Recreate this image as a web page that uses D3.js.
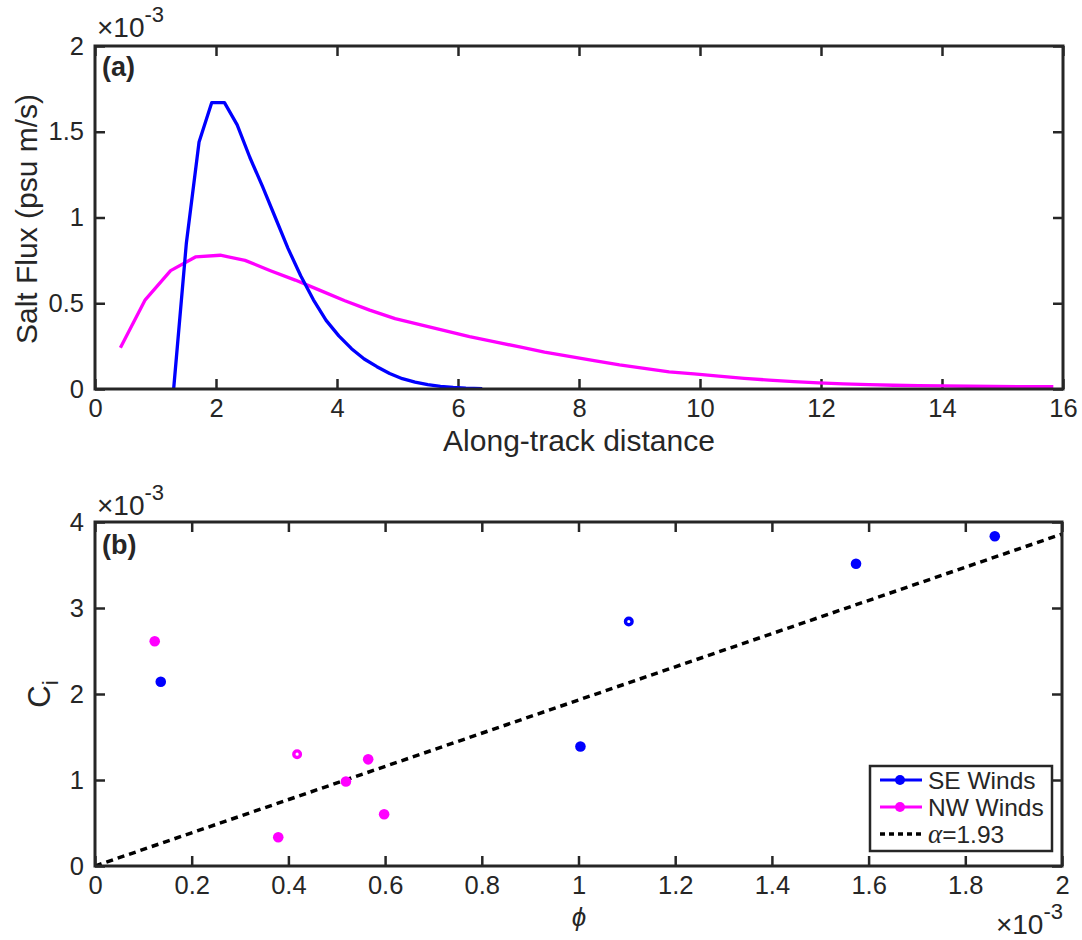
<!DOCTYPE html>
<html><head><meta charset="utf-8">
<script src="https://cdn.jsdelivr.net/npm/d3@7"></script>
<style>
body{margin:0;background:#fff}
text{font-family:"Liberation Sans",Arial,Helvetica,sans-serif;fill:#262626}
</style>
</head><body><svg id="c" width="1082" height="940"></svg>
<script>
// ---- Panel (a): along-track salt flux (values in 1e-3 psu m/s) ----
const seDist = [1.30,1.51,1.72,1.93,2.14,2.35,2.56,2.77,2.98,3.19,3.40,3.61,3.82,4.03,4.24,4.45,4.66,4.87,5.08,5.29,5.50,5.71,5.92,6.13,6.40];
const seFlux = [0,0.85,1.44,1.67,1.67,1.54,1.35,1.18,1.00,0.82,0.66,0.52,0.40,0.31,0.235,0.175,0.13,0.09,0.06,0.04,0.025,0.015,0.009,0.005,0.002];
const nwDist = [0.42,0.83,1.25,1.66,2.07,2.48,2.90,3.31,3.72,4.13,4.54,4.96,5.37,5.78,6.19,6.61,7.02,7.43,7.84,8.25,8.67,9.08,9.49,9.90,10.31,10.73,11.14,11.55,11.96,12.37,12.79,13.20,13.61,14.02,14.43,14.85,15.26,15.84];
const nwFlux = [0.24,0.52,0.69,0.77,0.78,0.75,0.69,0.635,0.575,0.515,0.46,0.41,0.375,0.34,0.305,0.275,0.245,0.215,0.19,0.165,0.14,0.12,0.10,0.088,0.075,0.062,0.052,0.043,0.036,0.030,0.026,0.022,0.020,0.018,0.016,0.015,0.014,0.013];
const aXTicks = [0,2,4,6,8,10,12,14,16];
const aYTicks = [0,0.5,1,1.5,2];

// ---- Panel (b): C_i vs phi (both in 1e-3) ----
const sePhi  = [0.136,1.004,1.574,1.861,1.104];
const seCi   = [2.142,1.390,3.514,3.835,2.843];
const seOpen = [false,false,false,false,true];
const nwPhi  = [0.1235,0.379,0.519,0.565,0.598,0.418];
const nwCi   = [2.614,0.335,0.983,1.240,0.602,1.300];
const nwOpen = [false,false,false,false,false,true];
const alpha = 1.93;
const fitPhi = [0,2];
const bXTicks = [0,0.2,0.4,0.6,0.8,1,1.2,1.4,1.6,1.8,2];
const bYTicks = [0,1,2,3,4];
const legendLabels = ["SE Winds","NW Winds","=1.93"];

const BLUE="#0000ff", MAG="#ff00ff", AX="#262626";
const svg = d3.select("#c");
const TICKF = 25.5, LABF = 30;

function panel(o){
  const g = svg.append("g");
  const x = d3.scaleLinear().domain(o.xd).range([o.L,o.R]);
  const y = d3.scaleLinear().domain(o.yd).range([o.B,o.T]);
  const fmt = d => String(+d.toFixed(2));
  const ax = g.append("g").attr("transform",`translate(0,${o.B})`)
    .call(d3.axisBottom(x).tickValues(o.xt).tickSize(-10).tickPadding(10).tickFormat(fmt));
  const ay = g.append("g").attr("transform",`translate(${o.L},0)`)
    .call(d3.axisLeft(y).tickValues(o.yt).tickSize(-10).tickPadding(11).tickFormat(fmt));
  const at = g.append("g").attr("transform",`translate(0,${o.T})`)
    .call(d3.axisTop(x).tickValues(o.xt).tickSize(-10).tickFormat(""));
  const ar = g.append("g").attr("transform",`translate(${o.R},0)`)
    .call(d3.axisRight(y).tickValues(o.yt).tickSize(-10).tickFormat(""));
  [ax,ay,at,ar].forEach(a=>{
    a.select(".domain").remove();
    a.selectAll(".tick line").attr("stroke",AX).attr("stroke-width",2.5);
    a.selectAll(".tick text").attr("font-size",TICKF).attr("fill",AX)
      .attr("font-family",'"Liberation Sans",Arial,sans-serif');
  });
  const clipId = "clip"+o.id;
  svg.append("clipPath").attr("id",clipId).append("rect")
    .attr("x",o.L).attr("y",o.T).attr("width",o.R-o.L).attr("height",o.B-o.T);
  const plot = g.append("g").attr("clip-path",`url(#${clipId})`);
  return {g,x,y,plot,box:()=>g.append("rect").attr("x",o.L).attr("y",o.T)
    .attr("width",o.R-o.L).attr("height",o.B-o.T).attr("fill","none")
    .attr("stroke",AX).attr("stroke-width",3)};
}

function times10(x,yb,anchor){
  const t = svg.append("text").attr("x",x).attr("y",yb).attr("font-size",28).attr("text-anchor",anchor||"start");
  t.append("tspan").text("\u00d710");
  t.append("tspan").attr("dy",-15).attr("font-size",22).text("-3");
}

// ---------- Panel a ----------
const A = panel({id:"a",L:95,R:1063,T:46,B:389,xd:[0,16],yd:[0,2],xt:aXTicks,yt:aYTicks});
const lineA = d3.line().x(d=>A.x(d[0])).y(d=>A.y(d[1]));
A.plot.append("path").datum(nwDist.map((d,i)=>[d,nwFlux[i]]))
  .attr("d",lineA).attr("fill","none").attr("stroke",MAG).attr("stroke-width",3.3).attr("stroke-linejoin","round");
A.plot.append("path").datum(seDist.map((d,i)=>[d,seFlux[i]]))
  .attr("d",lineA).attr("fill","none").attr("stroke",BLUE).attr("stroke-width",3.3).attr("stroke-linejoin","round");
A.box();
A.g.append("text").attr("x",102).attr("y",76).attr("font-size",27).attr("font-weight","bold").attr("fill","#000").text("(a)");
times10(97,37);
svg.append("text").attr("transform","translate(37,219) rotate(-90)").attr("text-anchor","middle")
  .attr("font-size",LABF).text("Salt Flux (psu m/s)");
svg.append("text").attr("x",579).attr("y",451).attr("text-anchor","middle")
  .attr("font-size",LABF).text("Along-track distance");

// ---------- Panel b ----------
const B = panel({id:"b",L:95,R:1062,T:522,B:866,xd:[0,2],yd:[0,4],xt:bXTicks,yt:bYTicks});
B.plot.append("path").datum(fitPhi.map(p=>[p,alpha*p]))
  .attr("d",d3.line().x(d=>B.x(d[0])).y(d=>B.y(d[1])))
  .attr("fill","none").attr("stroke","#000").attr("stroke-width",3.5).attr("stroke-dasharray","7,5");
function pts(xs,ys,open,col){
  xs.forEach((v,i)=>{
    if(open[i]){
      B.plot.append("circle").attr("cx",B.x(v)).attr("cy",B.y(ys[i])).attr("r",3.3)
        .attr("fill","#fff").attr("stroke",col).attr("stroke-width",3.4);
    } else {
      B.plot.append("circle").attr("cx",B.x(v)).attr("cy",B.y(ys[i])).attr("r",5.3).attr("fill",col);
    }
  });
}
pts(sePhi,seCi,seOpen,BLUE);
pts(nwPhi,nwCi,nwOpen,MAG);
B.box();
B.g.append("text").attr("x",102).attr("y",554).attr("font-size",27).attr("font-weight","bold").attr("fill","#000").text("(b)");
times10(97,515);
times10(1063,934,"end");
const ci = svg.append("text").attr("transform","translate(50,694) rotate(-90)").attr("text-anchor","middle").attr("font-size",LABF+1);
ci.append("tspan").text("C");
ci.append("tspan").attr("dy",8).attr("font-size",22).text("i");
svg.append("text").attr("x",579).attr("y",926).attr("text-anchor","middle")
  .attr("font-size",26).attr("font-style","italic").attr("font-family",'"DejaVu Serif",serif').text("\u03d5");

// Legend
const lg = svg.append("g");
lg.append("rect").attr("x",870).attr("y",766).attr("width",182).attr("height",85)
  .attr("fill","#fff").attr("stroke","#262626").attr("stroke-width",2.5);
const rows = [{c:BLUE,t:legendLabels[0],m:true},{c:MAG,t:legendLabels[1],m:true},{c:"#000",t:legendLabels[2],m:false}];
rows.forEach((r,i)=>{
  const yy = 780 + i*27;
  lg.append("line").attr("x1",880).attr("x2",922).attr("y1",yy).attr("y2",yy)
    .attr("stroke",r.c).attr("stroke-width",r.m?3:3.5).attr("stroke-dasharray",r.m?null:"5,4");
  if(r.m) lg.append("circle").attr("cx",900).attr("cy",yy).attr("r",5).attr("fill",r.c);
  const t = lg.append("text").attr("x",928).attr("y",yy+8.5).attr("font-size",24.5).attr("fill","#000");
  if(!r.m){
    t.append("tspan").attr("font-style","italic").attr("font-family",'"Liberation Serif",serif').attr("font-size",27).text("\u03b1");
  }
  t.append("tspan").text(r.t);
});
</script></body></html>
